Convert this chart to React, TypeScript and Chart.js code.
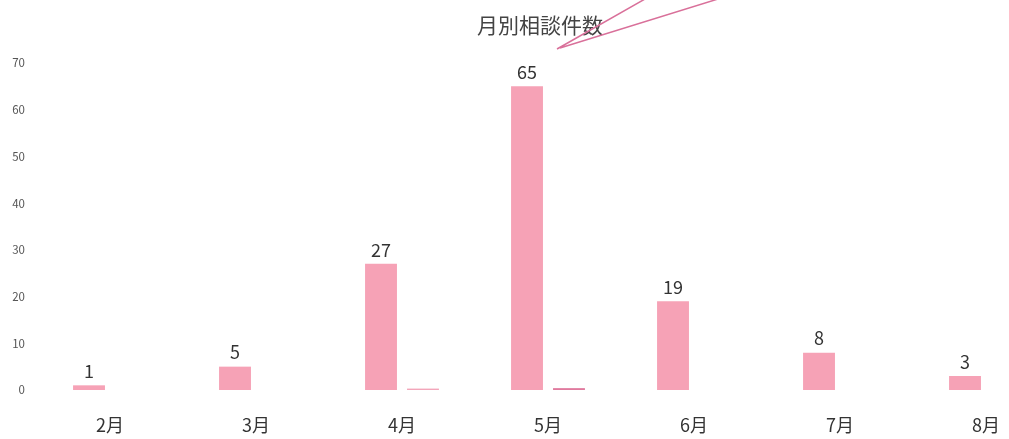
import React, { useEffect, useRef } from "react";
import { Chart, registerables } from "chart.js";

Chart.register(...registerables);

const categories = ["2月", "3月", "4月", "5月", "6月", "7月", "8月"];
const counts = [1, 5, 27, 65, 19, 8, 3];
const secondary = [0, 0, 0.3, 0.4, 0, 0, 0];
const yTicks = [0, 10, 20, 30, 40, 50, 60, 70];
const titleText = "月別相談件数";

const FONT = "'Noto Sans CJK JP', 'Noto Sans', sans-serif";

const decorPlugin = {
  id: "decor",
  afterDatasetsDraw(chart: any) {
    const ctx = chart.ctx;
    ctx.save();
    const meta = chart.getDatasetMeta(0);
    ctx.fillStyle = "#333";
    ctx.font = `18px ${FONT}`;
    ctx.textAlign = "center";
    ctx.textBaseline = "bottom";
    meta.data.forEach((bar: any, i: number) => {
      ctx.fillText(String(counts[i]), bar.x, bar.y - 5);
    });
    const cx = (chart.chartArea.left + chart.chartArea.right) / 2;
    ctx.font = `21px ${FONT}`;
    ctx.fillStyle = "#444";
    ctx.textBaseline = "middle";
    ctx.fillText(titleText, cx - 8, 25);
    ctx.strokeStyle = "#d9709a";
    ctx.lineWidth = 1.5;
    ctx.beginPath();
    ctx.moveTo(cx + 9, 49);
    ctx.lineTo(cx + 97, -1);
    ctx.moveTo(cx + 12, 48);
    ctx.lineTo(cx + 170, -1);
    ctx.stroke();
    ctx.restore();
  },
};

export default function App() {
  const ref = useRef<HTMLCanvasElement>(null);
  useEffect(() => {
    if (!ref.current) return;
    const chart = new Chart(ref.current, {
      type: "bar",
      data: {
        labels: categories,
        datasets: [
          {
            data: counts,
            backgroundColor: "#f6a2b6",
            barPercentage: 0.76,
            categoryPercentage: 0.575,
          },
          {
            data: secondary,
            backgroundColor: ["#f6a2b6", "#f6a2b6", "#f3a6ba", "#e07a9e", "#f6a2b6", "#f6a2b6", "#f6a2b6"],
            barPercentage: 0.76,
            categoryPercentage: 0.575,
          },
        ],
      },
      options: {
        responsive: false,
        animation: false,
        layout: { padding: { top: 63, right: 21, left: 0, bottom: 0 } },
        plugins: {
          legend: { display: false },
          title: { display: false },
          tooltip: { enabled: false },
        },
        scales: {
          x: {
            grid: { display: false, drawTicks: false },
            border: { display: false },
            ticks: {
              color: "#333",
              font: { family: FONT, size: 18 },
              padding: 24,
            },
            afterFit: (s: any) => {
              s.height = 49;
            },
          },
          y: {
            min: 0,
            max: 70,
            grid: { display: false, drawTicks: false },
            border: { display: false },
            afterBuildTicks: (s: any) => {
              s.ticks = yTicks.map((v) => ({ value: v }));
            },
            ticks: {
              color: "#555",
              font: { family: FONT, size: 11.5 },
              padding: 12,
            },
            afterFit: (s: any) => {
              s.width = 37;
            },
          },
        },
      },
      plugins: [decorPlugin],
    });
    return () => chart.destroy();
  }, []);
  return (
    <div
      style={{
        position: "fixed",
        left: 0,
        top: 0,
        width: 1009,
        height: 439,
        overflow: "hidden",
        background: "#fff",
      }}
    >
      <canvas ref={ref} width={1080} height={439} />
    </div>
  );
}
